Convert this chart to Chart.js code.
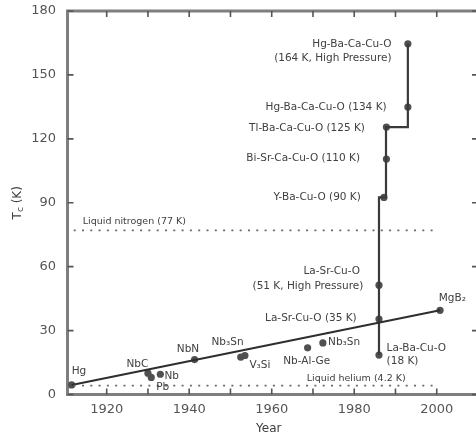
<!DOCTYPE html>
<html><head><meta charset="utf-8">
<script src="https://cdn.jsdelivr.net/npm/chart.js@4.4.1/dist/chart.umd.min.js"></script>
<style>
html,body{margin:0;padding:0;overflow:hidden;background:#fff;width:476px;height:436px}
#wrap{position:relative;width:482px;height:436px}
canvas{display:block}
</style>
</head><body><div id="wrap"><canvas id="c" width="482" height="436"></canvas></div>
<script>
// ---- data ----
const trendYears = [1911.5, 2000.8];
const trendTc    = [4.5, 39.5];
const stepYears  = [1986, 1986, 1987.7, 1987.7, 1993, 1993];
const stepTc     = [18.5, 92.5, 92.5, 125.5, 125.5, 164.6];
const pointYears = [1911.5, 1930, 1930.8, 1933, 1941.3, 1952.5, 1953.5, 1968.7, 1972.4, 1986, 1986, 1986, 1987.2, 1987.8, 1987.8, 1993, 1993, 2000.8];
const pointTc    = [4.5, 10, 8, 9.5, 16.4, 17.5, 18.3, 21.9, 24.2, 18.5, 35.4, 51.3, 92.5, 110.5, 125.5, 134.9, 164.6, 39.5];
const refYears   = [1912, 1999];
const nitrogenTc = [77, 77];
const heliumTc   = [4.2, 4.2];
const xTickValues = [1920, 1930, 1940, 1950, 1960, 1970, 1980, 1990, 2000];
const yTickValues = [0, 30, 60, 90, 120, 150, 180];
const labelTexts = ["Hg-Ba-Ca-Cu-O", "(164 K, High Pressure)", "Hg-Ba-Ca-Cu-O (134 K)", "Tl-Ba-Ca-Cu-O (125 K)",
  "Bi-Sr-Ca-Cu-O (110 K)", "Y-Ba-Cu-O (90 K)", "La-Sr-Cu-O", "(51 K, High Pressure)", "La-Sr-Cu-O (35 K)",
  "La-Ba-Cu-O", "(18 K)", "MgB₂", "Nb-Al-Ge", "Nb₃Sn", "Nb₃Sn", "V₃Si", "NbN", "NbC", "Nb", "Pb", "Hg",
  "Liquid nitrogen (77 K)", "Liquid helium (4.2 K)"];
const labelYears = [1989.05, 1989.05, 1987.85, 1982.6, 1981.4, 1981.6, 1981.4, 1982.2, 1980.6,
  1987.85, 1987.85, 2000.5, 1962.8, 1973.65, 1945.4, 1954.6, 1937, 1924.8, 1934, 1932, 1911.5, 1914.2, 1968.5];
const labelTc = [164.6, 157.6, 134.9, 125.1, 110.7, 92.7, 57.9, 50.9, 36.0,
  21.9, 15.4, 45.4, 15.7, 24.3, 24.3, 13.8, 21.2, 14.3, 8.7, 3.4, 11.0, 81.3, 7.3];
// ---- layout/style (not data) ----
const labelAlign = ["right","right","right","right","right","right","right","right","right",
  "left","left","left","left","left","left","left","left","left","left","left","left","left","left"];
const labelSmall = [false,false,false,false,false,false,false,false,false,false,false,false,false,false,false,false,false,false,false,false,false,true,true];

const zip = (xs, ys) => xs.map((x, i) => ({x, y: ys[i]}));
const FONT = '"DejaVu Sans", sans-serif';
const TXT = '#404040';

const framePlugin = {
  id: 'frame',
  beforeDatasetsDraw(chart) {
    const {ctx, chartArea: a, scales: {x, y}} = chart;
    ctx.save();
    ctx.strokeStyle = '#7f7f7f';
    ctx.lineWidth = 3;
    ctx.strokeRect(a.left, a.top, a.right - a.left, a.bottom - a.top);
    ctx.strokeStyle = '#555';
    ctx.lineWidth = 1.6;
    ctx.beginPath();
    xTickValues.forEach(v => {
      const px = x.getPixelForValue(v);
      ctx.moveTo(px, a.bottom); ctx.lineTo(px, a.bottom - 6);
      ctx.moveTo(px, a.top); ctx.lineTo(px, a.top + 6);
    });
    yTickValues.forEach(v => {
      const py = y.getPixelForValue(v);
      ctx.moveTo(a.left, py); ctx.lineTo(a.left + 6, py);
      ctx.moveTo(a.right, py); ctx.lineTo(a.right - 6, py);
    });
    ctx.stroke();
    ctx.restore();
  },
  afterDraw(chart) {
    const {ctx, chartArea: a, scales: {x, y}} = chart;
    ctx.save();
    ctx.fillStyle = TXT;
    ctx.textBaseline = 'middle';
    labelTexts.forEach((t, i) => {
      ctx.font = (labelSmall[i] ? '9.5px ' : '10.5px ') + FONT;
      ctx.textAlign = labelAlign[i];
      ctx.fillText(t, x.getPixelForValue(labelYears[i]), y.getPixelForValue(labelTc[i]));
    });
    // x title
    ctx.font = '12px ' + FONT;
    ctx.textAlign = 'center';
    ctx.fillText('Year', (a.left + a.right) / 2 - 4, 429);
    // y title with subscript
    ctx.translate(18, (a.top + a.bottom) / 2);
    ctx.rotate(-Math.PI / 2);
    ctx.font = '12px ' + FONT;
    const wT = ctx.measureText('T').width;
    const wK = ctx.measureText(' (K)').width;
    ctx.font = '9px ' + FONT;
    const wc = ctx.measureText('c').width;
    let sx = -(wT + wc + wK) / 2;
    ctx.textAlign = 'left';
    ctx.font = '12px ' + FONT;
    ctx.fillText('T', sx, 0); sx += wT;
    ctx.font = '9px ' + FONT;
    ctx.fillText('c', sx, 3); sx += wc;
    ctx.font = '12px ' + FONT;
    ctx.fillText(' (K)', sx, 0);
    ctx.restore();
  }
};

new Chart(document.getElementById('c'), {
  type: 'line',
  data: {
    datasets: [
      {data: zip(refYears, nitrogenTc), borderColor: '#6a6a6a', borderWidth: 1.8, borderDash: [2, 6.3], pointRadius: 0},
      {data: zip(refYears, heliumTc), borderColor: '#6a6a6a', borderWidth: 1.8, borderDash: [2, 6.3], pointRadius: 0},
      {data: zip(trendYears, trendTc), borderColor: '#2e2e2e', borderWidth: 2, pointRadius: 0},
      {data: zip(stepYears, stepTc), borderColor: '#3a3a3a', borderWidth: 2.2, pointRadius: 0},
      {data: zip(pointYears, pointTc), showLine: false, pointRadius: 3.6, pointBackgroundColor: '#505050', pointBorderColor: '#505050', pointBorderWidth: 0}
    ]
  },
  options: {
    responsive: false,
    animation: false,
    devicePixelRatio: 1,
    layout: {padding: {top: 11, right: 3, left: 0, bottom: 0}},
    plugins: {legend: {display: false}, tooltip: {enabled: false}},
    scales: {
      x: {
        type: 'linear', min: 1910.5, max: 2010,
        grid: {display: false, drawTicks: false}, border: {display: false},
        afterBuildTicks: s => { s.ticks = xTickValues.map(v => ({value: v})); },
        afterFit: s => { s.height = 41.5; s.paddingLeft = 0; s.paddingRight = 0; },
        ticks: {autoSkip: false, maxRotation: 0, padding: 7, color: '#555', font: {family: FONT, size: 13},
          callback: v => (v % 20 === 0 ? String(v) : '')}
      },
      y: {
        type: 'linear', min: 0, max: 180,
        grid: {display: false, drawTicks: false}, border: {display: false},
        afterBuildTicks: s => { s.ticks = yTickValues.map(v => ({value: v})); },
        afterFit: s => { s.width = 67.5; s.paddingTop = 0; s.paddingBottom = 0; },
        ticks: {padding: 11.5, color: '#555', font: {family: FONT, size: 13}}
      }
    }
  },
  plugins: [framePlugin]
});
</script>
</body></html>
